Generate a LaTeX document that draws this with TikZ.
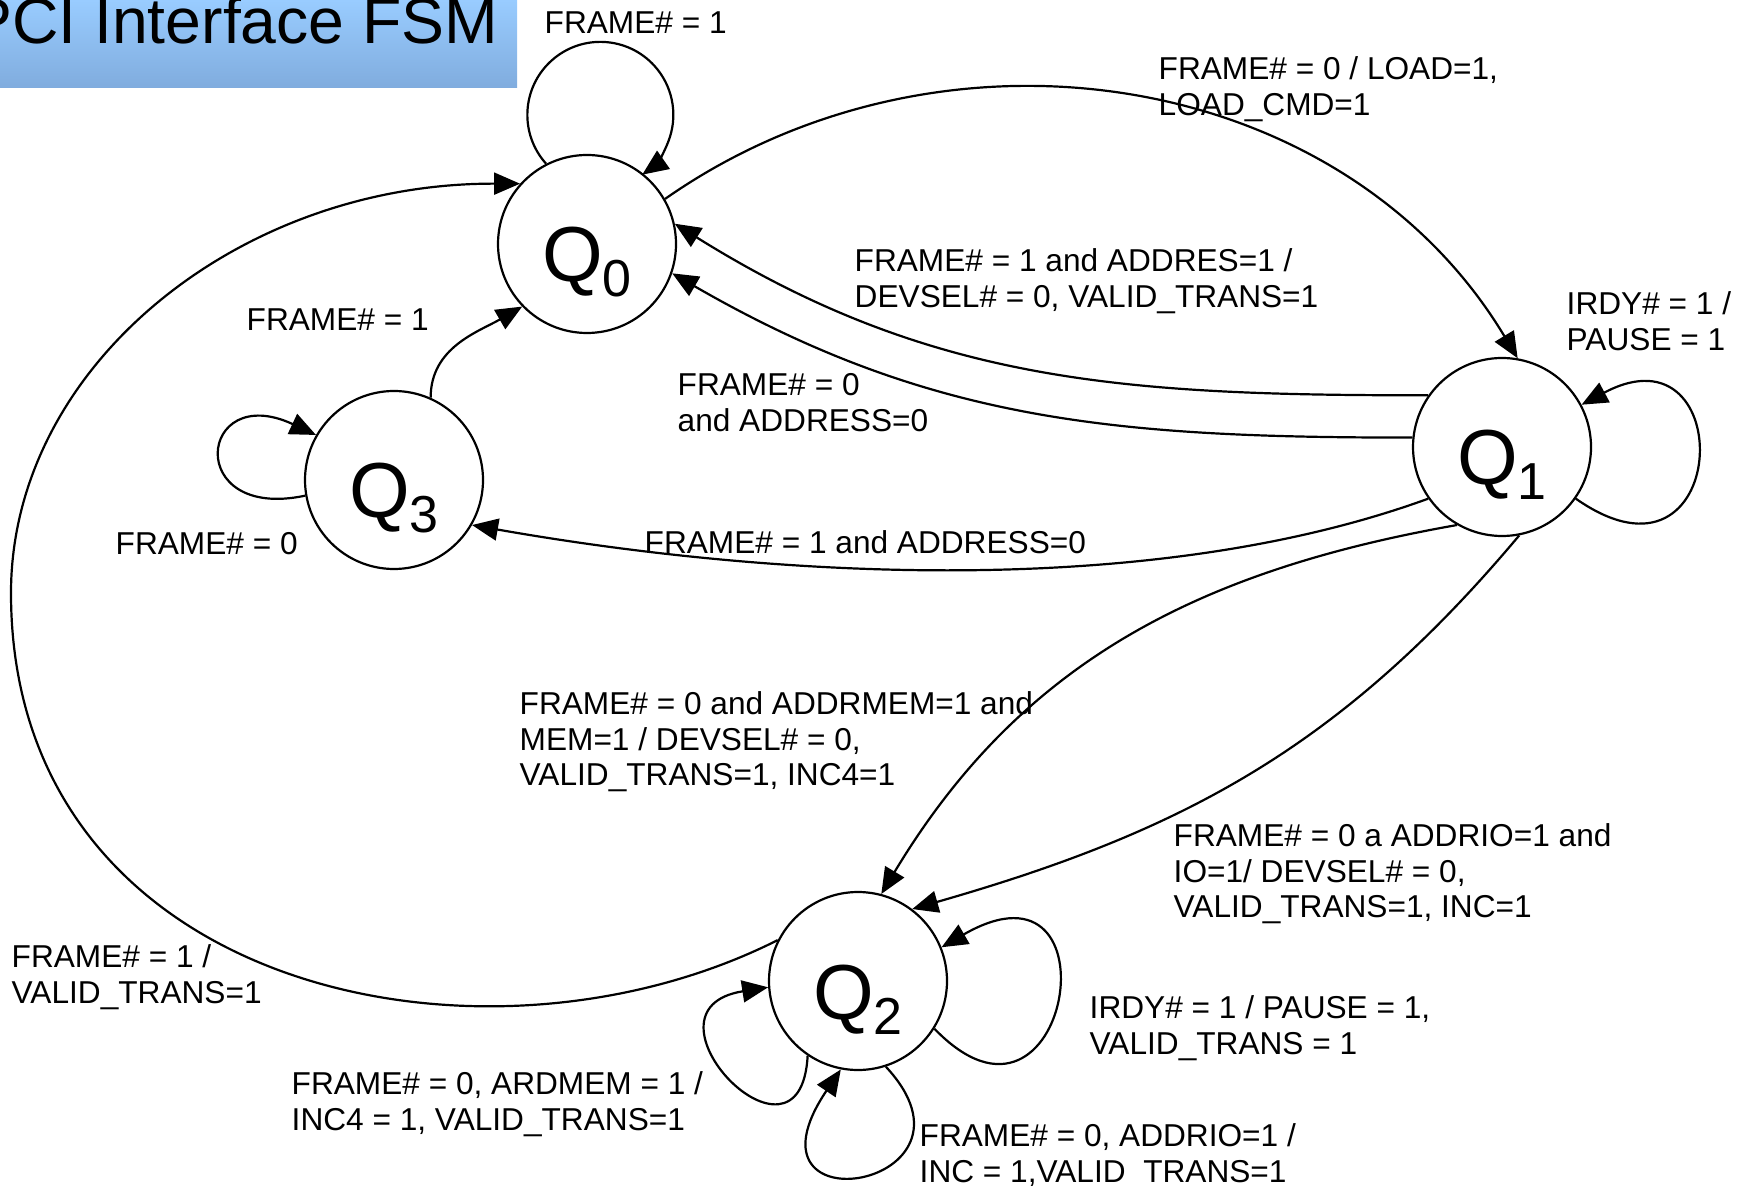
\documentclass[tikz,border=0pt]{standalone}
\usepackage{fontspec}
\setmainfont{Liberation Sans}
\usetikzlibrary{arrows.meta}

\definecolor{titletop}{RGB}{153,204,255}
\definecolor{titlebot}{RGB}{128,172,222}

% state name: big Q with a lowered index
\newcommand{\qlabel}[1]{\raisebox{-3.8mm}[0pt][0pt]{\fontsize{22.2}{22.2}\selectfont Q\raisebox{-1.5mm}{\fontsize{14.8}{14.8}\selectfont #1}}}

\begin{document}
\begin{tikzpicture}[
    x=0.1mm, y=0.1mm,
    fsmstate/.style={circle, draw, line width=0.22mm, minimum size=17.8mm, inner sep=0pt},
    cond/.style={anchor=north west, inner sep=0pt, align=left, font=\fontsize{9}{10.1}\selectfont},
    arrow/.style={-{Triangle[length=2.6mm, width=2.2mm]}, line width=0.22mm}
]
    \useasboundingbox (0,0) rectangle (1754,-1186);

    % Title
    \shade[top color=titletop, bottom color=titlebot] (0,0) rectangle (517,-88);
    \node (title) [anchor=base east, inner sep=0pt, font=\fontsize{18.3}{18.3}\selectfont] at (499,-44) {PCI Interface FSM};

    % States
    \node (q0) [fsmstate] at (587,-244) {\qlabel{0}};
    \node (q1) [fsmstate] at (1502,-447) {\qlabel{1}};
    \node (q2) [fsmstate] at (858,-981) {\qlabel{2}};
    \node (q3) [fsmstate] at (394,-480) {\qlabel{3}};

    % Transitions
    \draw [arrow] (q0.117) arc[start angle=222, end angle=-55, radius=7.3mm];
    \draw [arrow] (q0.30) to[out=35, in=121] (q1.80);
    \draw [arrow] (q1.145) to[out=180, in=-32] (q0.13);
    \draw [arrow] (q1.174) to[out=180, in=-30] (q0.-19);
    \draw [arrow] (q1.-35) .. controls +(-35:19mm) and +(28:18mm) .. (q1.28);
    \draw [arrow] (q1.215) to[out=200, in=-10, looseness=0.8] (q3.-30);
    \draw [arrow] (q3.66) to[out=90, in=210] (q0.224);
    \draw [arrow] (q3.190) .. controls +(192:12.5mm) and +(155:13mm) .. (q3.150);
    \draw [arrow] (q1.240) to[out=190, in=59] (q2.75);
    \draw [arrow] (q1.-79) to[out=230, in=16] (q2.53);
    \draw [arrow] (q2.153) .. controls (480,-1090) and (11,-990) .. (11,-593)
        .. controls (11,-367) and (238,-183) .. (q0.138);
    \draw [arrow] (q2.236) .. controls +(267:13.3mm) and +(189:14.2mm) .. (q2.184);
    \draw [arrow] (q2.-72) .. controls +(-47:16.5mm) and +(236:19.7mm) .. (q2.259);
    \draw [arrow] (q2.-32) .. controls +(-46:19.4mm) and +(30:20.8mm) .. (q2.22);

    % Conditions / outputs
    \node (c00) [cond] at (544,-11) {FRAME\# = 1};
    \node (c01) [cond] at (1158,-56) {FRAME\# = 0 / LOAD=1,\\LOAD\_CMD=1};
    \node (c10a) [cond] at (854,-248) {FRAME\# = 1 and ADDRES=1 /\\DEVSEL\# = 0, VALID\_TRANS=1};
    \node (c11) [cond] at (1566,-291) {IRDY\# = 1 /\\PAUSE = 1};
    \node (c30) [cond] at (246,-308) {FRAME\# = 1};
    \node (c10b) [cond] at (677,-373) {FRAME\# = 0\\and ADDRESS=0};
    \node (c33) [cond] at (115,-532) {FRAME\# = 0};
    \node (c13) [cond] at (644,-530) {FRAME\# = 1 and ADDRESS=0};
    \node (c12a) [cond] at (519,-691) {FRAME\# = 0 and ADDRMEM=1 and\\MEM=1 / DEVSEL\# = 0,\\VALID\_TRANS=1, INC4=1};
    \node (c12b) [cond] at (1173,-823) {FRAME\# = 0 a ADDRIO=1 and\\IO=1/ DEVSEL\# = 0,\\VALID\_TRANS=1, INC=1};
    \node (c20) [cond] at (11,-944) {FRAME\# = 1 /\\VALID\_TRANS=1};
    \node (c22a) [cond] at (1089,-995) {IRDY\# = 1 / PAUSE = 1,\\VALID\_TRANS = 1};
    \node (c22b) [cond] at (291,-1071) {FRAME\# = 0, ARDMEM = 1 /\\INC4 = 1, VALID\_TRANS=1};
    \node (c22c) [cond] at (919,-1123) {FRAME\# = 0, ADDRIO=1 /\\INC = 1,VALID\_TRANS=1};

\end{tikzpicture}
\end{document}
